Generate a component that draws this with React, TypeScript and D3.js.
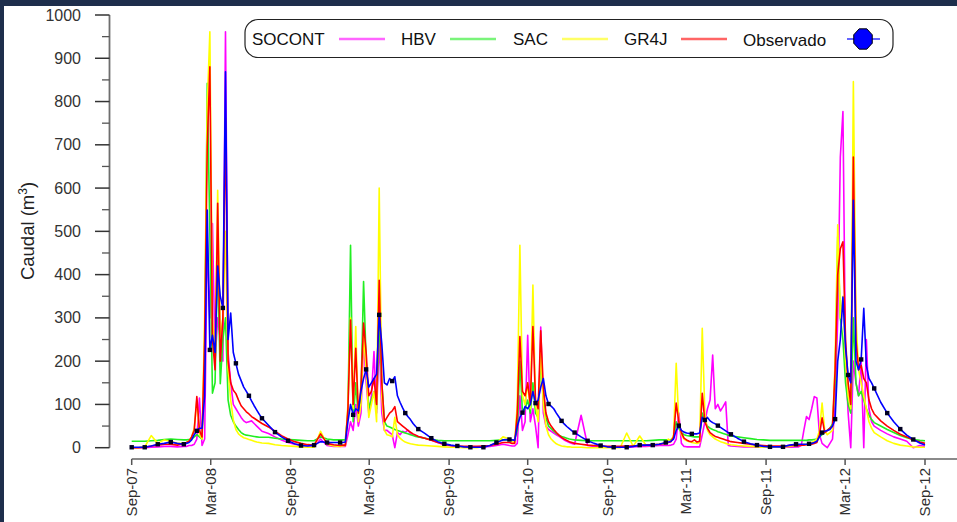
import React from "react";
import * as d3 from "d3";

// days since 2007-09-01 (dense in wet seasons, sparse in recessions)
const DAYS = [
  0, 15, 30, 45, 60, 75, 90, 105,
  120, 126, 132, 138, 144, 150, 156, 162, 168, 174, 180, 186, 192, 198, 204, 210, 216, 222, 228, 234, 240, 246, 252, 258, 264, 270, 276, 282, 288, 294, 300,
  315, 330, 345, 360, 375, 390, 405, 420, 435, 450, 465,
  480, 486, 492, 498, 504, 510, 516, 522, 528, 534, 540, 546, 552, 558, 564, 570, 576, 582, 588, 594, 600, 606, 612, 618, 624, 630, 636, 642, 648, 654, 660,
  675, 690, 705, 720, 735, 750, 765, 780, 795, 810, 825, 840, 855,
  870, 876, 882, 888, 894, 900, 906, 912, 918, 924, 930, 936, 942, 948, 954, 960, 966, 972, 978, 984, 990, 996, 1002, 1008, 1014, 1020,
  1035, 1050, 1065, 1080, 1095, 1110, 1125, 1140, 1155, 1170, 1185, 1200, 1215,
  1230, 1236, 1242, 1248, 1254, 1260, 1266, 1272, 1278, 1284, 1290, 1296, 1302, 1308, 1314, 1320, 1326, 1332, 1338, 1344, 1350, 1356, 1362, 1368, 1374, 1380,
  1395, 1410, 1425, 1440, 1455, 1470, 1485, 1500, 1515,
  1530, 1536, 1542, 1548, 1554, 1560, 1566, 1572, 1578, 1584, 1590, 1596, 1602, 1608, 1614, 1620, 1626, 1632, 1638, 1644, 1650, 1656, 1662, 1668, 1674, 1680, 1686, 1692, 1698, 1704, 1710,
  1725, 1740, 1755, 1770, 1785, 1800, 1815, 1827,
];

const SOCONT = [
  0, 0, 0, 1, 2, 3, 3, 2,
  3, 3, 5, 5, 8, 20, 115, 5, 20, 480, 300, 518, 200, 300, 250, 200, 961, 220, 150, 100, 90, 80, 70, 62, 58, 60, 62, 56, 50, 44, 38,
  33, 25, 18, 12, 8, 5, 3, 2, 20, 5, 3,
  3, 3, 3, 30, 60, 40, 100, 50, 80, 248, 150, 80, 120, 222, 80, 250, 80, 40, 40, 35, 30, 0, 35, 30, 38, 35, 41, 33, 30, 28, 26,
  22, 18, 12, 7, 4, 2, 1, 1, 1, 2, 3, 5, 8,
  5, 4, 4, 10, 120, 40, 60, 260, 60, 90, 50, 0, 279, 80, 50, 42, 38, 34, 30, 26, 22, 18, 15, 12, 10, 8,
  75, 5, 3, 2, 1, 1, 1, 1, 2, 3, 3, 4, 5,
  5, 5, 6, 8, 20, 80, 10, 3, 2, 2, 2, 2, 2, 2, 30, 60, 90, 110, 214, 90, 100, 85, 95, 106, 5, 4,
  3, 2, 2, 1, 1, 1, 1, 1, 1,
  2, 2, 5, 40, 72, 65, 90, 118, 115, 30, 10, 5, 0, 10, 20, 100, 300, 672, 777, 200, 80, 0, 200, 150, 120, 200, 0, 250, 90, 60, 50,
  40, 32, 25, 20, 15, 0, 5, 3,
];

const HBV = [
  15, 15, 15, 16, 17, 19, 20, 19,
  18, 18, 19, 20, 25, 30, 25, 20, 200, 842, 500, 126, 150, 450, 148, 250, 300, 110, 75, 60, 50, 42, 35, 31, 29, 28, 27, 26, 25, 24, 24,
  24, 22, 20, 19, 18, 17, 16, 16, 25, 20, 18,
  18, 18, 18, 80, 468, 60, 150, 70, 120, 384, 200, 90, 110, 130, 90, 300, 150, 60, 50, 48, 45, 42, 40, 38, 36, 34, 32, 30, 28, 26, 25,
  22, 19, 17, 16, 16, 16, 16, 16, 16, 16, 16, 17, 18,
  18, 18, 18, 40, 200, 80, 90, 110, 80, 150, 80, 70, 200, 120, 70, 50, 44, 38, 33, 29, 26, 24, 22, 20, 19, 18,
  17, 16, 16, 16, 16, 16, 16, 16, 16, 16, 16, 17, 18,
  18, 18, 19, 22, 60, 45, 35, 30, 28, 27, 26, 25, 25, 25, 80, 60, 50, 45, 42, 40, 37, 35, 33, 31, 29, 27,
  25, 23, 21, 19, 18, 17, 17, 17, 17,
  17, 17, 17, 17, 17, 18, 18, 19, 20, 25, 30, 35, 40, 45, 55, 150, 488, 300, 250, 150, 100, 80, 300, 150, 120, 130, 110, 90, 75, 65, 58,
  50, 42, 35, 28, 23, 19, 17, 16,
];

const SAC = [
  0, 0, 2, 28, 10, 18, 15, 10,
  10, 12, 15, 25, 45, 110, 30, 20, 300, 790, 961, 300, 200, 595, 250, 300, 500, 180, 110, 64, 42, 32, 27, 23, 21, 19, 17, 15, 13, 12, 11,
  10, 7, 5, 4, 3, 2, 1, 1, 38, 8, 4,
  3, 4, 5, 100, 300, 90, 280, 60, 100, 260, 180, 70, 100, 130, 60, 600, 120, 40, 30, 28, 25, 70, 30, 22, 17, 13, 11, 9, 8, 7, 6,
  5, 4, 3, 2, 1, 1, 0, 0, 0, 3, 5, 10, 25,
  20, 15, 12, 100, 468, 120, 100, 150, 90, 376, 100, 60, 227, 100, 50, 30, 20, 14, 9, 6, 4, 3, 2, 2, 1, 1,
  1, 0, 0, 0, 0, 0, 0, 34, 3, 27, 5, 6, 8,
  12, 20, 15, 30, 195, 60, 30, 20, 16, 14, 12, 11, 10, 12, 276, 80, 40, 30, 25, 20, 17, 14, 12, 10, 8, 7,
  5, 4, 3, 2, 1, 1, 1, 2, 3,
  5, 6, 6, 8, 8, 10, 12, 15, 20, 40, 103, 40, 30, 35, 40, 200, 515, 300, 350, 200, 120, 90, 846, 300, 180, 150, 120, 90, 60, 45, 35,
  25, 16, 10, 6, 4, 2, 1, 1,
];

const GR4J = [
  0, 0, 1, 4, 6, 8, 8, 6,
  10, 12, 15, 25, 40, 118, 40, 25, 250, 697, 880, 250, 180, 565, 200, 300, 762, 200, 150, 133, 125, 110, 97, 90, 83, 78, 72, 68, 64, 60, 56,
  48, 38, 28, 20, 14, 10, 7, 6, 32, 10, 7,
  5, 6, 6, 90, 295, 100, 230, 80, 140, 288, 220, 120, 130, 160, 100, 387, 150, 60, 70, 80, 85, 95, 60, 55, 50, 45, 40, 36, 32, 29, 26,
  22, 17, 12, 8, 5, 4, 3, 3, 3, 4, 5, 8, 12,
  12, 10, 10, 80, 257, 130, 120, 150, 100, 280, 110, 90, 270, 140, 80, 60, 50, 42, 35, 29, 24, 20, 17, 14, 12, 10,
  8, 6, 5, 4, 3, 3, 3, 4, 4, 5, 6, 7, 8,
  10, 12, 14, 25, 103, 60, 35, 22, 18, 15, 14, 18, 13, 15, 126, 60, 45, 35, 30, 26, 24, 22, 20, 18, 16, 14,
  12, 10, 8, 6, 5, 4, 4, 4, 5,
  5, 5, 6, 6, 7, 8, 8, 10, 12, 30, 69, 35, 40, 45, 50, 180, 400, 460, 476, 250, 150, 100, 672, 250, 180, 190, 160, 150, 110, 90, 78,
  62, 50, 40, 31, 25, 18, 13, 10,
];

const OBSERVADO = [
  1, 1, 1, 4, 8, 10, 13, 10,
  8, 10, 12, 18, 30, 39, 45, 45, 120, 549, 226, 260, 220, 420, 350, 323, 869, 250, 311, 220, 195, 170, 155, 140, 130, 120, 108, 97, 87, 77, 68,
  52, 36, 25, 16, 9, 5, 4, 6, 14, 12, 12,
  12, 12, 13, 60, 100, 76, 90, 85, 130, 160, 181, 140, 150, 160, 170, 307, 240, 150, 145, 160, 154, 164, 120, 105, 92, 80, 72, 65, 56, 49, 43,
  33, 22, 14, 9, 6, 4, 2, 1, 1, 1, 5, 12, 18,
  19, 18, 17, 50, 70, 81, 95, 90, 100, 130, 103, 110, 140, 160, 120, 101, 96, 90, 80, 71, 62, 55, 49, 44, 39, 35,
  25, 16, 10, 5, 2, 1, 1, 1, 3, 6, 6, 6, 8,
  12, 13, 15, 20, 40, 51, 40, 36, 34, 33, 32, 32, 32, 34, 70, 64, 70, 62, 58, 55, 51, 47, 43, 39, 35, 31,
  22, 14, 9, 6, 3, 2, 2, 2, 6,
  8, 8, 8, 8, 8, 9, 10, 12, 15, 25, 35, 38, 40, 42, 50, 66, 200, 250, 348, 230, 168, 150, 572, 200, 180, 204, 322, 190, 160, 150, 137,
  105, 80, 60, 43, 29, 19, 11, 6,
];

const TICK_DATES = [
  "2007-09-01", "2008-03-01", "2008-09-01", "2009-03-01", "2009-09-01", "2010-03-01",
  "2010-09-01", "2011-03-01", "2011-09-01", "2012-03-01", "2012-09-01",
];
const TICK_LABELS = [
  "Sep-07", "Mar-08", "Sep-08", "Mar-09", "Sep-09", "Mar-10",
  "Sep-10", "Mar-11", "Sep-11", "Mar-12", "Sep-12",
];
const Y_TICKS = [0, 100, 200, 300, 400, 500, 600, 700, 800, 900, 1000];
const Y_MINOR = [50, 150, 250, 350, 450, 550, 650, 750, 850, 950];

const SERIES = [
  { name: "SOCONT", values: SOCONT, color: "#ff00ff" },
  { name: "HBV", values: HBV, color: "#22ee22" },
  { name: "SAC", values: SAC, color: "#ffff00" },
  { name: "GR4J", values: GR4J, color: "#ff0000" },
];

const W = 957, H = 522;
const START = Date.UTC(2007, 8, 1);
const FONT = "'Liberation Sans', Arial, sans-serif";

export default function App() {
  const x = d3.scaleUtc()
    .domain([new Date(TICK_DATES[0] + "T00:00:00Z"), new Date(TICK_DATES[10] + "T00:00:00Z")])
    .range([131.7, 925]);
  const y = d3.scaleLinear().domain([0, 1000]).range([447.7, 15]);

  const dates = DAYS.map((d) => new Date(START + d * 86400000));
  const line = d3.line<number>()
    .x((_, i) => x(dates[i]))
    .y((v) => y(v));

  const axisX = 109.5;
  const axisY = 459;

  // legend layout
  const legend = [
    { label: "SOCONT", tx: 252, lx: 339, color: "#ff00ff" },
    { label: "HBV", tx: 401, lx: 450, color: "#22ee22" },
    { label: "SAC", tx: 513, lx: 562, color: "#ffff00" },
    { label: "GR4J", tx: 624, lx: 681, color: "#ff0000" },
  ];
  const octagon = d3.range(8).map((k) => {
    const a = (Math.PI / 8) + (k * Math.PI) / 4;
    return `${863 + 10 * Math.cos(a)},${39 + 11 * Math.sin(a)}`;
  }).join(" ");

  return (
    <div style={{ position: "absolute", left: 0, top: 0 }}>
      <svg width={W} height={H} style={{ display: "block" }} fontFamily={FONT}>
        <rect width={W} height={H} fill="#1e2e4c" />
        <rect x={4} y={6} width={W - 4} height={H - 6} fill="#ffffff" />

        {/* Y axis */}
        <line x1={axisX} x2={axisX} y1={y(1000)} y2={y(0)} stroke="#6e6e6e" strokeWidth={1.8} />
        {Y_TICKS.map((t) => (
          <g key={t}>
            <line x1={95} x2={axisX} y1={y(t)} y2={y(t)} stroke="#333" strokeWidth={1.5} />
            <text x={81} y={y(t)} dy="0.35em" textAnchor="end" fontSize={16} fill="#333">{t}</text>
          </g>
        ))}
        {Y_MINOR.map((t) => (
          <line key={t} x1={102} x2={axisX} y1={y(t)} y2={y(t)} stroke="#555" strokeWidth={1.3} />
        ))}
        <text transform="translate(34,231) rotate(-90)" textAnchor="middle" fontSize={18.5} fill="#222">
          Caudal (m<tspan fontSize={12} dy={-7}>3</tspan><tspan dy={7}>)</tspan>
        </text>

        {/* X axis */}
        <line x1={131.7} x2={W} y1={axisY} y2={axisY} stroke="#8a8a8a" strokeWidth={2} />
        {TICK_DATES.map((d, i) => {
          const px = x(new Date(d + "T00:00:00Z"));
          return (
            <g key={d}>
              <line x1={px} x2={px} y1={axisY} y2={axisY + 6} stroke="#555" strokeWidth={1.5} />
              <text transform={`translate(${px},${468}) rotate(-90)`} dy="0.35em" textAnchor="end" fontSize={15} fill="#2e2e2e">
                {TICK_LABELS[i]}
              </text>
            </g>
          );
        })}

        {/* series */}
        {SERIES.map((s) => (
          <path key={s.name} d={line(s.values) || ""} fill="none" stroke={s.color} strokeWidth={1.6} strokeLinejoin="round" />
        ))}
        <path d={line(OBSERVADO) || ""} fill="none" stroke="#0000ff" strokeWidth={1.6} strokeLinejoin="round" />
        {DAYS.map((d, i) =>
          d % 30 === 0 && d <= 1800 ? (
            <rect key={d} x={x(dates[i]) - 2.2} y={y(OBSERVADO[i]) - 2.2} width={4.4} height={4.4} fill="#000022" />
          ) : null
        )}

        {/* legend */}
        <rect x={245} y={19.5} width={648} height={38} rx={13} fill="#ffffff" stroke="#222" strokeWidth={1.2} />
        {legend.map((l) => (
          <g key={l.label}>
            <text x={l.tx} y={39} dy="0.35em" fontSize={17} fill="#111">{l.label}</text>
            <line x1={l.lx} x2={l.lx + 46} y1={39} y2={39} stroke={l.color} strokeWidth={2.5} opacity={0.6} />
          </g>
        ))}
        <text x={743} y={40} dy="0.35em" fontSize={17} fill="#111">Observado</text>
        <line x1={847} x2={880} y1={39} y2={39} stroke="#0000ff" strokeWidth={2} opacity={0.6} />
        <polygon points={octagon} fill="#0000ff" stroke="#000" strokeWidth={1} />
      </svg>
    </div>
  );
}
